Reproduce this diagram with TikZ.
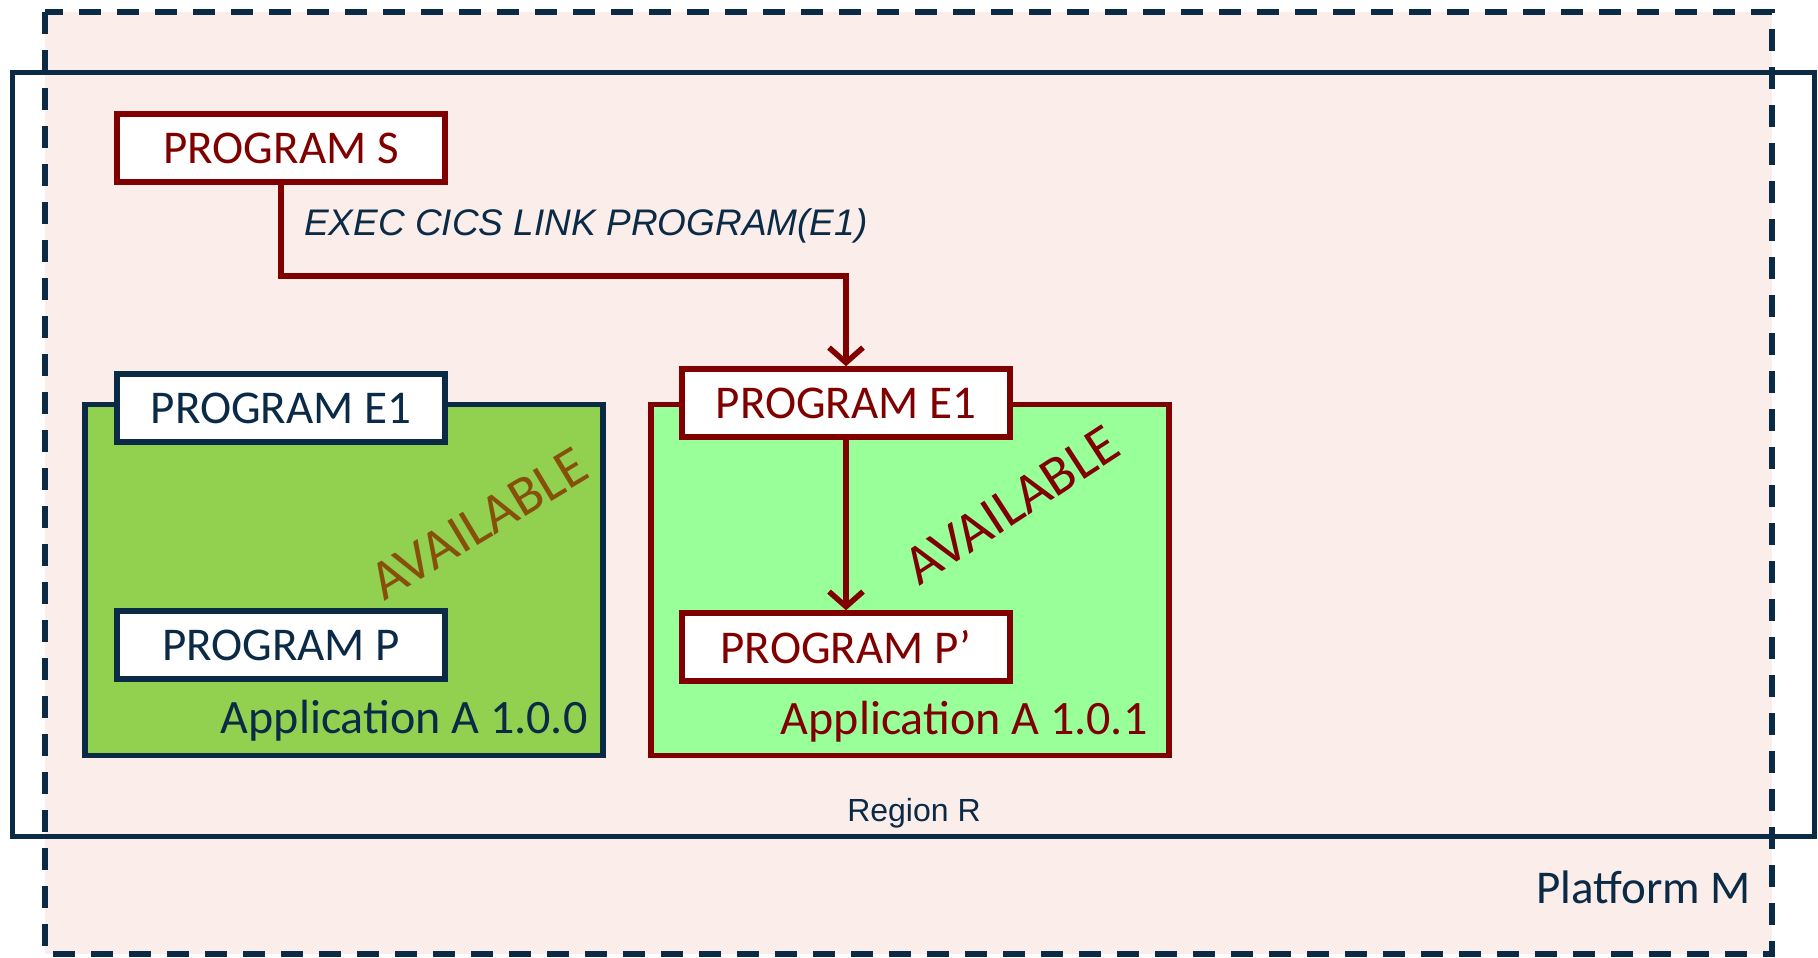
\documentclass[tikz,border=0pt]{standalone}
\usepackage{fontspec}
\setmainfont{Carlito}
\newfontfamily\arialfont{Liberation Sans}
\usetikzlibrary{arrows.meta,positioning}
\definecolor{navy}{RGB}{10,42,70}
\definecolor{darkred}{RGB}{128,0,0}
\definecolor{pinkbg}{RGB}{251,237,233}
\definecolor{appgreen}{RGB}{146,208,80}
\definecolor{lightgreen}{RGB}{153,255,153}
\definecolor{availbrown}{RGB}{135,80,10}
\tikzstyle{prog} = [draw, fill=white, line width=5.5pt, minimum width=328pt,
    minimum height=68pt, inner sep=0pt, font=\fontsize{47}{56}\selectfont]
\tikzstyle{app} = [draw, line width=5.5pt, inner sep=0pt, minimum width=518pt,
    minimum height=351pt]
\tikzstyle{avail} = [font=\fontsize{56}{62}\selectfont, inner sep=0pt]
\tikzstyle{link} = [darkred, line width=5.5pt, -{Straight Barb[length=15pt,width=34pt,line width=5.5pt]}]

\begin{document}
\begin{tikzpicture}[x=1pt, y=-1pt]
  \useasboundingbox (0,0) rectangle (1818,958);
  % Platform and region
  \fill [pinkbg] (45,12) rectangle (1772,954);
  \draw [navy, line width=5pt] (12,73) rectangle (1814,836);
  \draw [navy, line width=5.5pt, dash pattern=on 22pt off 16pt] (45,12) rectangle (1772,954);
  % Place nodes
  \node [app, draw=navy, fill=appgreen] (app0) at (344,580) {};
  \node [app, draw=darkred, fill=lightgreen] (app1) at (910,580) {};
  \node [prog, draw=darkred, text=darkred] (s) at (281,148) {PROGRAM S};
  \node [prog, draw=navy, text=navy] (e1old) at (281,408) {PROGRAM E1};
  \node [prog, draw=navy, text=navy] (pold) at (281,645) {PROGRAM P};
  \node [prog, draw=darkred, text=darkred] (e1new) at (846,403) {PROGRAM E1};
  \node [prog, draw=darkred, text=darkred] (pnew) at (846,647) {PROGRAM P’};
  % Labels
  \node [avail, text=availbrown, rotate=31] (av0) at (479,524) {AVAILABLE};
  \node [avail, text=darkred, rotate=33] (av1) at (1012,505) {AVAILABLE};
  \node [text=navy, anchor=east, inner sep=0pt, font=\fontsize{48}{56}\selectfont]
    (ver0) at ([xshift=-18pt,yshift=38pt]app0.south east) {Application A 1.0.0};
  \node [text=darkred, anchor=east, inner sep=0pt, font=\fontsize{48}{56}\selectfont]
    (ver1) at ([xshift=-24pt,yshift=37pt]app1.south east) {Application A 1.0.1};
  \node [text=navy, inner sep=0pt, font=\arialfont\fontsize{32}{38}\selectfont] (reg) at (914,813) {Region R};
  \node [text=navy, anchor=east, inner sep=0pt, font=\fontsize{47}{54}\selectfont] (plat) at (1751,887) {Platform M};
  % Links
  \node [text=navy, anchor=west, inner sep=0pt, font=\arialfont\itshape\fontsize{37}{44}\selectfont]
    (exec) at (304,226) {EXEC CICS LINK PROGRAM(E1)};
  \draw [link] (s.south) -- ++(0,91) -| (e1new.north);
  \draw [link] (e1new) -- (pnew);
\end{tikzpicture}
\end{document}
